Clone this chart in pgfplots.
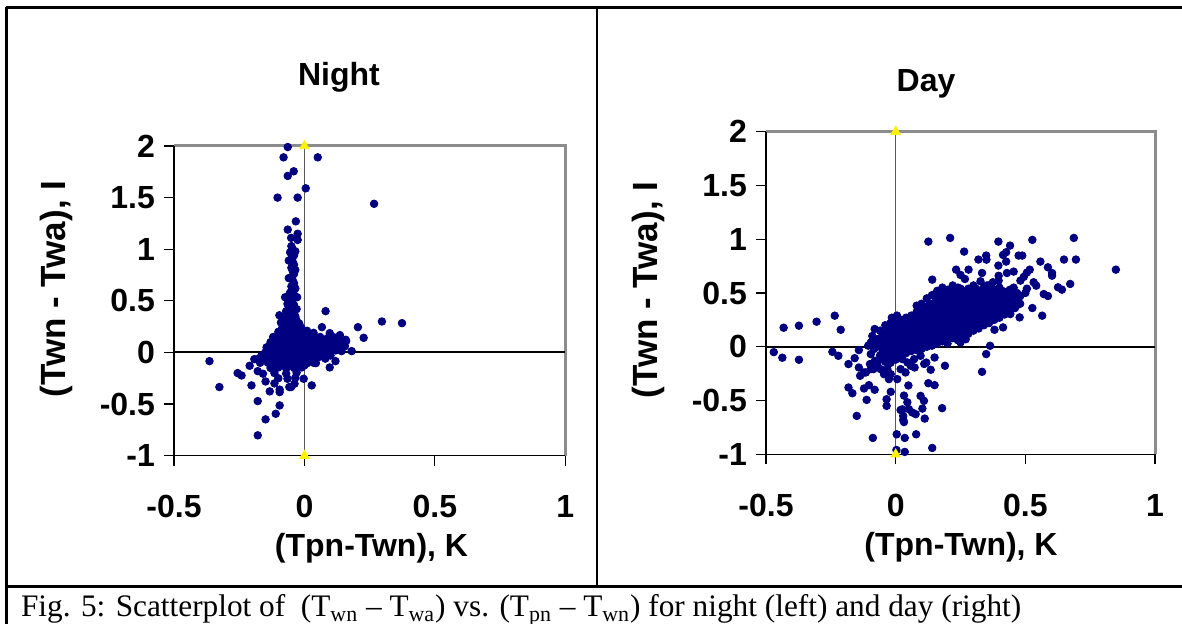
\documentclass[border=0pt]{standalone}
\usepackage{fontspec}
\setmainfont{Liberation Sans}
\newfontfamily\capfont{Liberation Serif}
\usepackage{pgfplots}
\pgfplotsset{compat=1.18}

\definecolor{navy}{HTML}{000080}
\definecolor{plotgray}{HTML}{8C8C8C}
\newcommand\chartfont{\fontsize{16}{19}\selectfont\bfseries}
\newcommand\ylabfont{\fontsize{17.5}{20}\selectfont\bfseries}

\pgfplotsset{
  panel/.style={
    scale only axis, anchor=south west,
    xmin=-0.5, xmax=1, ymin=-1, ymax=2,
    xtick={-0.5,0,0.5,1}, xticklabels={-0.5,0,0.5,1},
    ytick={-1,-0.5,0,0.5,1,1.5,2}, yticklabels={-1,-0.5,0,0.5,1,1.5,2},
    xtick pos=bottom, ytick pos=left,
    tick align=outside, major tick length=5pt,
    tick style={black, line width=0.6pt},
    axis line style={draw=none},
    ticklabel style={font=\chartfont},
    xticklabel style={anchor=center, yshift=-20.5pt},
    yticklabel style={anchor=east, xshift=-1pt},
    clip=false,
  },
  dots/.style={only marks, mark=*, mark size=1.9pt, color=navy},
  zeroline/.style={black, line width=1pt, no marks},
  vline/.style={gray!70!black, line width=0.7pt, no marks},
  tri/.style={only marks, mark=triangle*, mark size=2.7pt, color=yellow},
}

\begin{document}
\begin{tikzpicture}[x=1pt,y=1pt]
\path[use as bounding box] (0pt,0pt) rectangle (591pt,312pt);

% table frame
\draw[line width=1.5pt] (3pt,308.25pt) -- (591pt,308.25pt);
\draw[line width=1.5pt] (3pt,308.25pt) -- (3pt,0pt);
\draw[line width=1.5pt] (3pt,18.65pt) -- (591pt,18.65pt);
\draw[line width=1pt] (298.35pt,18.65pt) -- (298.35pt,308.25pt);

% ---------------- night ----------------
\begin{axis}[panel, at={(87pt,84.15pt)}, width=195.65pt, height=154.85pt]
\draw[plotgray, line width=1.5pt] (rel axis cs:0,1) -- (rel axis cs:1,1) -- (rel axis cs:1,0);
\draw[black, line width=0.7pt] (rel axis cs:0,1) -- (rel axis cs:0,0) -- (rel axis cs:1,0);
\addplot[zeroline] coordinates {(-0.5,0) (1,0)};
\addplot[vline] coordinates {(0,2) (0,-1)};
\addplot[dots] coordinates {
(-0.064,1.99) (-0.08,1.89) (0.051,1.89) (-0.041,1.755) (-0.064,1.71) (0.005,1.59)
(-0.103,1.50) (-0.026,1.50) (0.267,1.44) (-0.033,1.27) (-0.064,1.19) (-0.026,1.15)
(-0.051,1.11) (-0.026,1.09)
(-0.05,1.03) (-0.045,1.0) (-0.055,0.97) (-0.04,0.94) (-0.05,0.91) (-0.045,0.88)
(-0.04,0.85) (-0.05,0.82) (-0.045,0.79) (-0.04,0.76) (-0.05,0.73) (-0.045,0.70)
(-0.04,0.67) (-0.05,0.64) (-0.045,0.61) (-0.055,0.58) (-0.04,0.56) (-0.035,0.98)
(-0.06,0.89) (-0.035,0.80) (-0.06,0.72) (-0.035,0.62) (-0.06,0.54)
(-0.074,0.535) (-0.028,0.535) (-0.05,0.5) (-0.065,0.47) (-0.04,0.46) (-0.055,0.43)
(-0.03,0.42) (-0.07,0.40) (-0.045,0.39) (-0.06,0.36) (-0.035,0.35) (-0.096,0.36)
(-0.08,0.33) (-0.055,0.32) (-0.03,0.31) (-0.09,0.29) (-0.065,0.28) (-0.04,0.27)
(-0.02,0.28) (-0.085,0.24) (-0.06,0.235) (-0.035,0.23) (-0.012,0.24)
(-0.045,0.475) (-0.05,0.41) (-0.045,0.3) (-0.05,0.255) (-0.045,0.21) (-0.025,0.175)
(-0.1,0.2) (-0.075,0.205) (-0.05,0.195) (-0.02,0.2) (0.01,0.21) (0.035,0.19)
(-0.09,0.175) (-0.06,0.175) (-0.035,0.175) (-0.005,0.175) (0.02,0.175)
(-0.12,0.15) (-0.09,0.155) (-0.06,0.145) (-0.03,0.15) (0.0,0.155) (0.03,0.145) (0.06,0.15) (0.09,0.14) (0.115,0.145)
(-0.105,0.125) (-0.075,0.125) (-0.045,0.125) (-0.015,0.125) (0.015,0.125) (0.045,0.125) (0.075,0.125) (0.1,0.125) (0.13,0.125)
(-0.13,0.1) (-0.1,0.105) (-0.07,0.095) (-0.04,0.1) (-0.01,0.105) (0.02,0.095) (0.05,0.1) (0.08,0.105) (0.11,0.1) (0.14,0.095)
(-0.115,0.075) (-0.085,0.075) (-0.055,0.075) (-0.025,0.075) (0.005,0.075) (0.035,0.075) (0.065,0.075) (0.095,0.075) (0.125,0.075)
(-0.145,0.05) (-0.115,0.055) (-0.085,0.045) (-0.055,0.05) (-0.025,0.055) (0.005,0.045) (0.035,0.05) (0.065,0.055) (0.095,0.045) (0.125,0.05) (0.155,0.06)
(-0.13,0.025) (-0.1,0.025) (-0.07,0.025) (-0.04,0.025) (-0.01,0.025) (0.02,0.025) (0.05,0.025) (0.08,0.025) (0.11,0.025)
(-0.15,0.0) (-0.12,0.005) (-0.09,-0.005) (-0.06,0.0) (-0.03,0.005) (0.0,-0.005) (0.03,0.0) (0.06,0.005) (0.09,0.0)
(-0.14,-0.025) (-0.11,-0.025) (-0.08,-0.025) (-0.05,-0.025) (-0.02,-0.025) (0.01,-0.025) (0.04,-0.025) (0.07,-0.025)
(-0.155,-0.05) (-0.125,-0.045) (-0.095,-0.055) (-0.065,-0.05) (-0.035,-0.045) (-0.005,-0.055) (0.025,-0.05) (0.055,-0.045)
(-0.125,-0.075) (-0.095,-0.075) (-0.065,-0.075) (-0.035,-0.075) (-0.005,-0.075) (0.025,-0.075)
(-0.14,-0.1) (-0.11,-0.095) (-0.08,-0.105) (-0.05,-0.1) (-0.02,-0.095) (0.01,-0.105) (0.035,-0.1)
(-0.115,-0.125) (-0.085,-0.125) (-0.055,-0.125) (-0.025,-0.125) (0.0,-0.125)
(-0.13,-0.15) (-0.1,-0.145) (-0.07,-0.155) (-0.04,-0.15) (-0.01,-0.145)
(-0.115,-0.2) (-0.07,-0.205) (-0.03,-0.195)
(-0.1,-0.25) (-0.065,-0.255) (-0.035,-0.245)
(0.081,0.40) (0.067,0.245) (0.205,0.245) (0.097,0.187) (0.136,0.168) (0.158,0.123)
(0.227,0.142) (0.297,0.30) (0.374,0.284) (0.142,0.013) (0.181,0.013) (0.119,-0.084)
(0.097,-0.145) (0.044,-0.103) (0.028,-0.319) (-0.003,-0.255)
(0.12,0.02) (0.1,-0.03) (0.08,-0.06) (0.13,0.08) (0.16,0.11) (0.12,0.125)
(-0.364,-0.084) (-0.326,-0.335) (-0.256,-0.2) (-0.241,-0.223) (-0.21,-0.129) (-0.192,-0.065)
(-0.18,-0.065) (-0.203,-0.319) (-0.179,-0.181) (-0.159,-0.206) (-0.149,-0.281) (-0.133,-0.377)
(-0.095,-0.384) (-0.179,-0.471) (-0.095,-0.513) (-0.11,-0.594) (-0.149,-0.648) (-0.179,-0.803)
(-0.038,-0.303) (-0.051,-0.335) (-0.058,-0.335) (-0.115,-0.3) (-0.095,-0.36) (-0.17,-0.1)
(-0.165,-0.03)
};
\addplot[tri] coordinates {(0,2) (0,-1)};
\end{axis}

% ---------------- day ----------------
\begin{axis}[panel, at={(383pt,84.85pt)}, width=194.5pt, height=161.3pt]
\draw[plotgray, line width=1.5pt] (rel axis cs:0,1) -- (rel axis cs:1,1) -- (rel axis cs:1,0);
\draw[black, line width=0.7pt] (rel axis cs:0,1) -- (rel axis cs:0,0) -- (rel axis cs:1,0);
\addplot[zeroline] coordinates {(-0.5,0) (1,0)};
\addplot[vline] coordinates {(0,2) (0,-1)};
\addplot[dots] coordinates {
(0.126,0.978) (0.21,1.012) (0.264,0.885) (0.396,0.978) (0.441,0.941) (0.426,0.879)
(0.414,0.854) (0.527,0.994) (0.687,1.012) (0.474,0.848) (0.488,0.848) (0.349,0.848)
(0.319,0.811) (0.35,0.81) (0.426,0.792) (0.396,0.755) (0.558,0.792) (0.649,0.811)
(0.695,0.811) (0.587,0.739) (0.603,0.686) (0.603,0.661) (0.849,0.717) (0.517,0.717)
(0.506,0.69) (0.494,0.65) (0.481,0.615) (0.233,0.717) (0.281,0.717) (0.333,0.686)
(0.25,0.668) (0.267,0.63) (0.141,0.624) (0.327,0.609) (0.397,0.66) (0.397,0.615)
(0.429,0.686) (0.455,0.699) (0.375,0.6) (0.352,0.57) (0.532,0.6) (0.542,0.568)
(0.673,0.584) (0.626,0.553) (0.641,0.531) (0.571,0.49) (0.587,0.472) (0.506,0.54)
(0.5,0.5) (0.455,0.55) (0.468,0.5) (0.527,0.36) (0.565,0.289) (0.478,0.273)
(0.442,0.304) (0.414,0.18) (0.381,0.158) (0.364,0.009) (0.349,-0.068) (0.333,-0.233)
(0.25,0.04) (0.27,0.07) (0.19,-0.177) (0.15,-0.1) (0.135,-0.214) (0.126,-0.339)
(0.15,-0.357) (0.081,0.382) (0.11,-0.16) (0.118,-0.147) (0.073,-0.193) (0.179,-0.571)
(0.109,-0.503) (0.096,-0.457) (0.112,-0.668) (0.103,-0.575) (0.077,-0.627) (0.064,-0.611)
(0.051,-0.58) (0.049,-0.36) (0.032,-0.454) (0.045,-0.516) (0.026,-0.582) (0.019,-0.588)
(0.029,-0.643) (0.029,-0.68) (0.032,-0.7) (0.004,-0.814) (0.035,-0.848) (0.079,-0.814)
(0.141,-0.941) (0.003,-0.96) (0.035,-0.978) (-0.088,-0.848) (-0.15,-0.643) (-0.112,-0.494)
(-0.182,-0.379) (-0.167,-0.432) (-0.122,-0.388) (-0.103,-0.357) (-0.081,-0.4) (-0.035,-0.488)
(-0.035,-0.55) (-0.019,-0.419) (-0.142,-0.193) (-0.182,-0.161) (-0.158,-0.106) (-0.142,-0.031)
(-0.244,-0.047) (-0.221,-0.084) (-0.373,-0.121) (-0.437,-0.102) (-0.47,-0.05) (-0.432,0.177)
(-0.373,0.196) (-0.305,0.233) (-0.235,0.289) (-0.212,0.158)
(-0.137,-0.27) (-0.115,-0.239) (-0.096,-0.208) (-0.077,-0.183) (-0.058,-0.208) (-0.045,-0.255)
(-0.026,-0.301) (-0.071,-0.161) (-0.099,-0.161) (-0.086,-0.208) (-0.122,-0.239) (-0.032,-0.208)
(-0.019,-0.255) (-0.058,-0.115) (-0.04,-0.14) (-0.08,-0.13)
(0.019,-0.208) (0.038,-0.239) (0.058,-0.177) (0.045,-0.146) (0.006,-0.301) (0.026,-0.115)
(0.071,-0.115) (0.096,-0.084)
(-0.096,0.04) (-0.083,-0.02) (-0.09,0.1) (-0.081,0.165) (-0.07,0.07) (-0.075,0.01)
(-0.106,0.01) (-0.096,-0.068) (-0.015,0.27) (0.005,0.29)
(-0.06,-0.08) (-0.06,0.0) (-0.06,0.08) (-0.06,0.15)
(-0.05,-0.04) (-0.05,0.04) (-0.05,0.11)
(-0.04,-0.12) (-0.04,-0.04) (-0.04,0.04) (-0.04,0.12) (-0.04,0.2)
(-0.03,-0.08) (-0.03,0.0) (-0.03,0.08) (-0.03,0.16)
(-0.02,-0.15) (-0.02,-0.07) (-0.02,0.0) (-0.02,0.07) (-0.02,0.14) (-0.02,0.22)
(-0.01,-0.1) (-0.01,-0.03) (-0.01,0.035) (-0.01,0.105) (-0.01,0.18) (-0.01,0.25)
(0.0,-0.12) (0.0,-0.05) (0.0,0.02) (0.0,0.09) (0.0,0.16) (0.0,0.23)
(0.01,-0.08) (0.01,-0.015) (0.01,0.055) (0.01,0.125) (0.01,0.195)
(0.02,-0.08) (0.02,-0.01) (0.02,0.06) (0.02,0.12) (0.02,0.18) (0.02,0.25)
(0.03,-0.045) (0.03,0.025) (0.03,0.09) (0.03,0.15) (0.03,0.215)
(0.04,-0.06) (0.04,0.01) (0.04,0.08) (0.04,0.14) (0.04,0.2) (0.04,0.27)
(0.05,-0.025) (0.05,0.045) (0.05,0.11) (0.05,0.17) (0.05,0.235)
(0.06,-0.04) (0.06,0.03) (0.06,0.1) (0.06,0.16) (0.06,0.22) (0.06,0.29)
(0.07,-0.005) (0.07,0.065) (0.07,0.13) (0.07,0.19) (0.07,0.255)
(0.08,-0.03) (0.08,0.04) (0.08,0.11) (0.08,0.18) (0.08,0.25) (0.08,0.32)
(0.09,0.005) (0.09,0.075) (0.09,0.145) (0.09,0.215) (0.09,0.285)
(0.10,-0.02) (0.10,0.05) (0.10,0.12) (0.10,0.19) (0.10,0.26) (0.10,0.33) (0.10,0.4)
(0.11,0.025) (0.11,0.095) (0.11,0.165) (0.11,0.235) (0.11,0.305) (0.11,0.37)
(0.12,0.0) (0.12,0.07) (0.12,0.14) (0.12,0.21) (0.12,0.28) (0.12,0.35) (0.12,0.45)
(0.13,0.04) (0.13,0.11) (0.13,0.18) (0.13,0.25) (0.13,0.32) (0.13,0.4)
(0.14,0.01) (0.14,0.08) (0.14,0.15) (0.14,0.22) (0.14,0.29) (0.14,0.36) (0.14,0.48)
(0.15,0.055) (0.15,0.125) (0.15,0.195) (0.15,0.265) (0.15,0.335) (0.15,0.41)
(0.16,0.03) (0.16,0.1) (0.16,0.17) (0.16,0.24) (0.16,0.31) (0.16,0.38) (0.16,0.45) (0.16,0.52)
(0.17,0.075) (0.17,0.145) (0.17,0.215) (0.17,0.285) (0.17,0.355) (0.17,0.425) (0.17,0.5)
(0.18,0.05) (0.18,0.12) (0.18,0.19) (0.18,0.26) (0.18,0.33) (0.18,0.4) (0.18,0.47) (0.18,0.55)
(0.19,0.07) (0.19,0.14) (0.19,0.21) (0.19,0.28) (0.19,0.35) (0.19,0.42) (0.19,0.49)
(0.20,0.03) (0.20,0.1) (0.20,0.17) (0.20,0.24) (0.20,0.31) (0.20,0.38) (0.20,0.45) (0.20,0.53)
(0.21,0.09) (0.21,0.16) (0.21,0.23) (0.21,0.3) (0.21,0.37) (0.21,0.44) (0.21,0.51)
(0.22,0.08) (0.22,0.15) (0.22,0.22) (0.22,0.29) (0.22,0.36) (0.22,0.43) (0.22,0.5) (0.22,0.57)
(0.23,0.1) (0.23,0.17) (0.23,0.24) (0.23,0.31) (0.23,0.38) (0.23,0.45) (0.23,0.52)
(0.24,0.06) (0.24,0.13) (0.24,0.2) (0.24,0.27) (0.24,0.34) (0.24,0.41) (0.24,0.48) (0.24,0.55)
(0.25,0.12) (0.25,0.19) (0.25,0.26) (0.25,0.33) (0.25,0.4) (0.25,0.47) (0.25,0.54)
(0.26,0.1) (0.26,0.17) (0.26,0.24) (0.26,0.31) (0.26,0.38) (0.26,0.45) (0.26,0.52)
(0.27,0.14) (0.27,0.21) (0.27,0.28) (0.27,0.35) (0.27,0.42) (0.27,0.49)
(0.28,0.12) (0.28,0.19) (0.28,0.26) (0.28,0.33) (0.28,0.4) (0.28,0.47) (0.28,0.54)
(0.29,0.16) (0.29,0.23) (0.29,0.3) (0.29,0.37) (0.29,0.44) (0.29,0.51)
(0.30,0.15) (0.30,0.22) (0.30,0.29) (0.30,0.36) (0.30,0.43) (0.30,0.5) (0.30,0.57)
(0.31,0.19) (0.31,0.26) (0.31,0.33) (0.31,0.4) (0.31,0.47) (0.31,0.54)
(0.32,0.17) (0.32,0.24) (0.32,0.31) (0.32,0.38) (0.32,0.45) (0.32,0.52)
(0.33,0.21) (0.33,0.28) (0.33,0.35) (0.33,0.42) (0.33,0.49)
(0.34,0.2) (0.34,0.27) (0.34,0.34) (0.34,0.41) (0.34,0.48) (0.34,0.55)
(0.35,0.24) (0.35,0.31) (0.35,0.38) (0.35,0.45) (0.35,0.52)
(0.36,0.22) (0.36,0.29) (0.36,0.36) (0.36,0.43) (0.36,0.5) (0.36,0.57)
(0.37,0.26) (0.37,0.33) (0.37,0.4) (0.37,0.47) (0.37,0.54)
(0.38,0.25) (0.38,0.32) (0.38,0.39) (0.38,0.46) (0.38,0.53)
(0.39,0.29) (0.39,0.36) (0.39,0.43) (0.39,0.5)
(0.40,0.27) (0.40,0.34) (0.40,0.41) (0.40,0.48) (0.40,0.55)
(0.41,0.31) (0.41,0.38) (0.41,0.45) (0.41,0.52)
(0.42,0.3) (0.42,0.37) (0.42,0.44) (0.42,0.51)
(0.43,0.34) (0.43,0.41) (0.43,0.48)
(0.44,0.32) (0.44,0.39) (0.44,0.46) (0.44,0.53)
(0.45,0.36) (0.45,0.43) (0.45,0.5)
(0.46,0.36) (0.46,0.43) (0.46,0.5)
(0.47,0.39) (0.47,0.46)
(0.48,0.4) (0.48,0.47)
};
\addplot[tri] coordinates {(0,2) (0,-1)};
\end{axis}

% titles and axis labels
\node[font=\chartfont] at (169.5pt,273.2pt) {Night};
\node[font=\chartfont] at (463pt,270pt) {Day};
\node[font=\ylabfont, rotate=90] at (28pt,167.5pt) {(Twn - Twa), I};
\node[font=\ylabfont, rotate=90] at (324pt,167pt) {(Twn - Twa), I};
\node[font=\chartfont] at (185.75pt,38pt) {(Tpn-Twn), K};
\node[font=\chartfont] at (480.5pt,38.5pt) {(Tpn-Twn), K};

% caption
\node[anchor=base west, inner sep=0pt, font=\capfont\fontsize{15.65}{18}\selectfont] at (10.3pt,3.65pt)
  {Fig. 5: Scatterplot of\ \ (T\textsubscript{wn} – T\textsubscript{wa}) vs. (T\textsubscript{pn} – T\textsubscript{wn}) for night (left) and day (right)};
\end{tikzpicture}
\end{document}
